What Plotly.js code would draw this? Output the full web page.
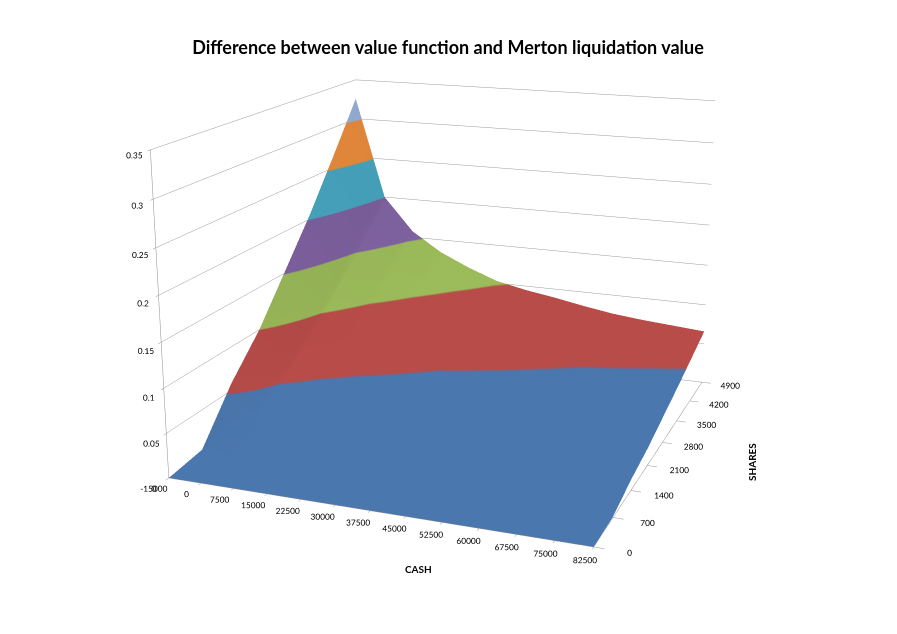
<!DOCTYPE html>
<html>
<head>
<meta charset="utf-8">
<script src="https://cdn.plot.ly/plotly-3.0.1.min.js"></script>
<style>
html,body{margin:0;padding:0;background:#fff;width:897px;height:634px;overflow:hidden;}
#wrap{position:relative;width:897px;height:634px;overflow:hidden;}
#chart{position:absolute;width:1794px;height:1268px;}
</style>
</head>
<body>
<div id="wrap"><div id="chart"></div></div>
<script>
// Category labels
const cashLabels = ["-15000","0","7500","15000","22500","30000","37500","45000","52500","60000","67500","75000","82500"];
const shares = [0,700,1400,2100,2800,3500,4200,4900];
// Values: one row per SHARES level, one column per CASH category
const z_s0    = [0,0,0,0,0,0,0,0,0,0,0,0,0];
const z_s700  = [0.005,0.003,0.002,0.002,0.002,0.002,0.002,0.001,0.001,0.001,0.001,0.001,0.001];
const z_s1400 = [0.058,0.036,0.028,0.024,0.021,0.018,0.017,0.016,0.015,0.014,0.013,0.012,0.012];
const z_s2100 = [0.100,0.061,0.049,0.041,0.036,0.032,0.029,0.027,0.025,0.023,0.022,0.021,0.020];
const z_s2800 = [0.153,0.094,0.074,0.063,0.055,0.048,0.045,0.042,0.039,0.036,0.034,0.032,0.031];
const z_s3500 = [0.206,0.126,0.100,0.085,0.074,0.065,0.060,0.056,0.052,0.048,0.046,0.044,0.042];
const z_s4200 = [0.265,0.162,0.129,0.109,0.095,0.084,0.077,0.072,0.067,0.062,0.059,0.056,0.054];
const z_s4900 = [0.326,0.200,0.158,0.134,0.117,0.103,0.095,0.089,0.082,0.076,0.072,0.069,0.066];

const zRows = [z_s0,z_s700,z_s1400,z_s2100,z_s2800,z_s3500,z_s4200,z_s4900];
const cashIdx = cashLabels.map((_, i) => i);
const zTicks = [0,0.05,0.1,0.15,0.2,0.25,0.3,0.35];

const bandColors = ['#4A77AE','#B84C49','#9CBB5A','#8163A3','#4AAAC5','#F0903F','#9CB6DD'];
const cs = [];
bandColors.forEach((c, k) => {
  cs.push([k / bandColors.length, c]);
  cs.push([(k + 1) / bandColors.length, c]);
});

const font = "Lato, 'Liberation Sans', sans-serif";

// The figure is drawn at twice the window size and shifted, so that the
// 3D camera's field of view gives the same mild perspective as the original.
const FW = 1794, FH = 1268, OX = 440, OY = 355;
const el = document.getElementById('chart');
el.style.left = (-OX) + 'px';
el.style.top = (-OY) + 'px';
const px = x => (x + OX) / FW;
const py = y => 1 - (y + OY) / FH;

const trace = {
  type: 'surface',
  x: cashIdx,
  y: shares,
  z: zRows,
  colorscale: cs,
  cmin: 0,
  cmax: 0.35,
  showscale: false,
  hoverinfo: 'skip',
  lighting: {ambient: 0.9, diffuse: 0.12, specular: 0.0, roughness: 1, fresnel: 0}
};

const axBase = {
  showgrid: false, zeroline: false, showline: true, linecolor: '#8c8c8c', linewidth: 1,
  ticks: 'outside', tickcolor: '#8c8c8c', ticklen: 4,
  showbackground: false, showspikes: false,
  tickangle: 0,
  tickfont: {family: font, size: 10, color: '#000'},
  title: {text: ''}
};

const layout = {
  width: FW, height: FH,
  margin: {l: 0, r: 0, t: 0, b: 0},
  paper_bgcolor: '#fff',
  font: {family: font},
  title: {text: '<b>Difference between value function and Merton liquidation value</b>',
          font: {family: font, size: 18, color: '#000'},
          x: px(448), xanchor: 'center', y: py(48), yanchor: 'middle', yref: 'container', xref: 'container'},
  scene: {
    domain: {x: [0, 1], y: [0, 1]},
    aspectmode: 'manual',
    aspectratio: {x: 1.32, y: 1.4, z: 1.0},
    camera: {eye: {x: 1.651, y: -4.370, z: 1.340}, center: {x: 0, y: 0, z: 0}, up: {x: 0, y: 0, z: 1}},
    xaxis: Object.assign({}, axBase, {range: [0, 12], tickvals: cashIdx, ticktext: cashLabels, ticklen: 8}),
    yaxis: Object.assign({}, axBase, {range: [0, 4900], tickvals: shares, ticktext: shares.map(String)}),
    zaxis: Object.assign({}, axBase, {range: [0, 0.35], tickvals: zTicks, ticktext: zTicks.map(String),
                                       showgrid: true, gridcolor: '#9a9a9a', gridwidth: 1})
  },
  annotations: [
    {text: '<b>CASH</b>', xref: 'paper', yref: 'paper', x: px(418), y: py(577), showarrow: false,
     font: {family: font, size: 10, color: '#000'}},
    {text: '<b>SHARES</b>', xref: 'paper', yref: 'paper', x: px(760), y: py(462), showarrow: false,
     textangle: -90, font: {family: font, size: 10, color: '#000'}}
  ]
};

Plotly.newPlot('chart', [trace], layout, {displayModeBar: false});
</script>
</body>
</html>
